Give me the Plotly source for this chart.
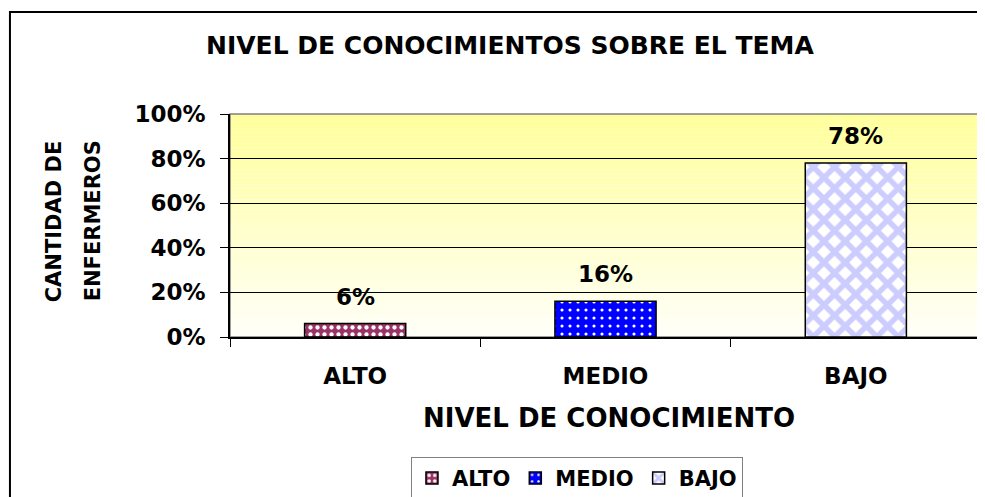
import plotly.graph_objects as go

categories = ["ALTO", "MEDIO", "BAJO"]
values = [0.06, 0.16, 0.78]
labels = ["6%", "16%", "78%"]
bar_colors = ["#993366", "#0000FF", "#FFFFFF"]
pattern_fg = ["#FFFFFF", "#FFFFFF", "#CCCCFF"]
pattern_shape = [".", ".", "x"]
pattern_size = [7, 8, 15]
pattern_solid = [0.3, 0.12, 0.6]

FONT = "DejaVu Sans"

fig = go.Figure()
for i, c in enumerate(categories):
    fig.add_trace(go.Bar(
        x=[c], y=[values[i]], name="<b>%s</b>" % c, width=0.404,
        marker=dict(color=bar_colors[i], line=dict(color="black", width=1.5),
                    pattern=dict(shape=pattern_shape[i], fgcolor=pattern_fg[i],
                                 bgcolor=bar_colors[i], size=pattern_size[i],
                                 solidity=pattern_solid[i], fillmode="replace")),
        offsetgroup="a",
    ))

shapes = []
# gradient plot background
n = 60
top = (255, 255, 153)
bot = (255, 255, 248)
for k in range(n):
    t = k / (n - 1)
    col = tuple(round(bot[j] + (top[j] - bot[j]) * t) for j in range(3))
    shapes.append(dict(type="rect", xref="paper", yref="paper", x0=0, x1=1,
                       y0=k / n, y1=(k + 1) / n, fillcolor="rgb(%d,%d,%d)" % col,
                       line=dict(width=0), layer="below"))
# plot area border (gray)
shapes.append(dict(type="rect", xref="paper", yref="paper", x0=0, x1=1, y0=0, y1=1,
                   line=dict(color="#808080", width=1.5), layer="below"))
# outer chart border
shapes.append(dict(type="rect", xref="paper", yref="paper", x0=-0.293, x1=1.06,
                   y0=-0.8, y1=1.457, line=dict(color="black", width=2), layer="below"))

annotations = []
for c, v, lab in zip(categories, values, labels):
    annotations.append(dict(x=c, y=v, xref="x", yref="y", text="<b>%s</b>" % lab,
                            showarrow=False, yanchor="bottom", yshift=12,
                            font=dict(family=FONT, size=23, color="black")))
annotations += [
    dict(x=0.373, y=1.309, xref="paper", yref="paper", xanchor="center", yanchor="middle",
         text="<b>NIVEL DE CONOCIMIENTOS SOBRE EL TEMA</b>", showarrow=False,
         font=dict(family=FONT, size=25, color="black")),
    dict(x=0.505, y=-0.363, xref="paper", yref="paper", xanchor="center", yanchor="middle",
         text="<b>NIVEL DE CONOCIMIENTO</b>", showarrow=False,
         font=dict(family=FONT, size=26, color="black")),
    dict(x=-0.234, y=0.52, xref="paper", yref="paper", xanchor="center", yanchor="middle",
         text="<b>CANTIDAD DE</b>", showarrow=False, textangle=-90,
         font=dict(family=FONT, size=21, color="black")),
    dict(x=-0.182, y=0.52, xref="paper", yref="paper", xanchor="center", yanchor="middle",
         text="<b>ENFERMEROS</b>", showarrow=False, textangle=-90,
         font=dict(family=FONT, size=21, color="black")),
]

fig.update_layout(
    width=977, height=489,
    margin=dict(l=222, r=4, t=106, b=160, autoexpand=False),
    paper_bgcolor="white", plot_bgcolor="rgba(0,0,0,0)",
    showlegend=True, bargap=0.6,
    legend=dict(orientation="h", x=0.462, xanchor="center", y=-0.538, yanchor="top",
                bgcolor="white", bordercolor="#808080", borderwidth=1,
                font=dict(family=FONT, size=21, color="black"),
                itemwidth=30, tracegroupgap=0),
    shapes=shapes, annotations=annotations,
    font=dict(family=FONT, color="black"),
)
fig.update_xaxes(categoryorder="array", categoryarray=categories,
                 showline=True, linecolor="black", linewidth=1.5,
                 ticks="outside", tickson="boundaries", ticklen=8, tickcolor="black",
                 tickfont=dict(family=FONT, size=23, color="black"),
                 ticklabelstandoff=18, showgrid=False, zeroline=False, automargin=False,
                 tickprefix="<b>", ticksuffix="</b>")
fig.update_yaxes(range=[0, 1], dtick=0.2, tickformat=".0%",
                 showline=True, linecolor="black", linewidth=1.5,
                 ticks="outside", ticklen=8, tickcolor="black",
                 tickfont=dict(family=FONT, size=23, color="black"),
                 ticklabelstandoff=10, automargin=False,
                 showgrid=True, gridcolor="black", gridwidth=1, zeroline=False,
                 tickprefix="<b>", ticksuffix="</b>")

fig.write_html("out.html")
